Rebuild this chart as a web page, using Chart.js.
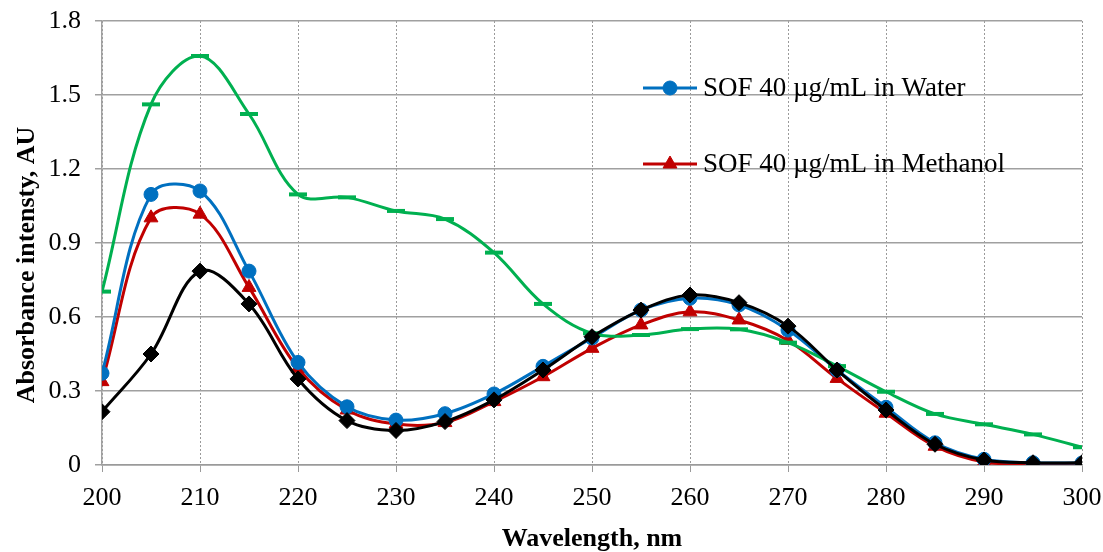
<!DOCTYPE html>
<html>
<head>
<meta charset="utf-8">
<script src="https://cdn.jsdelivr.net/npm/chart.js@4.4.0/dist/chart.umd.min.js"></script>
<style>
  body { margin: 0; background: #fff; }
  #wrap { width: 1103px; height: 552px; position: relative; }
</style>
</head>
<body>
<div id="wrap"><canvas id="chartSpectra"></canvas></div>
<script>
// wavelengths, nm
var wavelengths = [200, 205, 210, 215, 220, 225, 230, 235, 240, 245, 250,
                   255, 260, 265, 270, 275, 280, 285, 290, 295, 300];

// absorbance, AU
var sofWater    = [0.372, 1.097, 1.111, 0.786, 0.416, 0.236, 0.182, 0.208, 0.288, 0.400, 0.515,
                   0.628, 0.676, 0.649, 0.547, 0.385, 0.234, 0.090, 0.023, 0.009, 0.008];
var sofMethanol = [0.338, 1.002, 1.017, 0.720, 0.392, 0.223, 0.166, 0.172, 0.257, 0.358, 0.473,
                   0.568, 0.621, 0.588, 0.505, 0.351, 0.210, 0.076, 0.012, 0.005, 0.005];
var seriesGreen = [0.703, 1.462, 1.658, 1.423, 1.097, 1.085, 1.030, 0.997, 0.861, 0.653, 0.534,
                   0.527, 0.551, 0.550, 0.496, 0.401, 0.297, 0.207, 0.165, 0.124, 0.072];
var seriesBlack = [0.216, 0.450, 0.786, 0.653, 0.349, 0.180, 0.140, 0.176, 0.264, 0.385, 0.520,
                   0.628, 0.689, 0.658, 0.563, 0.385, 0.223, 0.084, 0.020, 0.009, 0.009];

var yTicks = [0, 0.3, 0.6, 0.9, 1.2, 1.5, 1.8];

var serif = "'Liberation Serif', 'Times New Roman', serif";

function toPoints(values){
    var pts = [];
    for (var i = 0; i < wavelengths.length; i++) {
        pts.push({x: wavelengths[i], y: values[i]});
    }
    return pts;
}

function makeDataset(label, values, color, style, radius, order, inLegend){
    return {
        label: label,
        data: toPoints(values),
        borderColor: color,
        backgroundColor: color,
        borderWidth: 3,
        pointStyle: style,
        pointRadius: radius,
        pointBorderWidth: style === 'line' ? 4 : 1,
        pointBorderColor: color,
        pointBackgroundColor: color,
        tension: 0.36,
        order: order,
        inLegend: inLegend
    };
}

// legend drawn inside the plot, like the original
var innerLegend = {
    id: 'innerLegend',
    afterDraw: function(chart){
        var ctx = chart.ctx;
        var rows = [88, 164];
        var n = 0;
        chart.data.datasets.forEach(function(ds){
            if (!ds.inLegend) return;
            var y = rows[n++];
            ctx.save();
            ctx.strokeStyle = ds.borderColor;
            ctx.fillStyle = ds.borderColor;
            ctx.lineWidth = 3;
            ctx.beginPath();
            ctx.moveTo(643, y);
            ctx.lineTo(697, y);
            ctx.stroke();
            ctx.lineWidth = 1;
            Chart.helpers.drawPoint(ctx, {pointStyle: ds.pointStyle, radius: ds.pointRadius, rotation: 0, borderWidth: 1}, 670, y);
            ctx.fillStyle = '#000';
            ctx.font = '27px ' + serif;
            ctx.textBaseline = 'middle';
            ctx.textAlign = 'left';
            ctx.fillText(ds.label, 703, y + 1);
            ctx.restore();
        });
        // y axis title
        ctx.save();
        ctx.translate(27, 265);
        ctx.rotate(-Math.PI / 2);
        ctx.font = 'bold 26px ' + serif;
        ctx.fillStyle = '#000';
        ctx.textAlign = 'center';
        ctx.textBaseline = 'middle';
        ctx.fillText('Absorbance intensty, AU', 0, 0);
        ctx.restore();
    }
};

var canvas = document.getElementById('chartSpectra');
var ctx = canvas.getContext('2d');

var chart = new Chart(ctx, {
    type: 'line',
    data: {
        datasets: [
            makeDataset('SOF 40 \u00b5g/mL in Water', sofWater, '#0070C0', 'circle', 7, 3, true),
            makeDataset('SOF 40 \u00b5g/mL in Methanol', sofMethanol, '#C00000', 'triangle', 8, 4, true),
            makeDataset('Series 3', seriesGreen, '#00B050', 'line', 9, 2, false),
            makeDataset('Series 4', seriesBlack, '#000000', 'rectRot', 8, 1, false)
        ]
    },
    options: {
        responsive: true,
        maintainAspectRatio: false,
        animation: false,
        layout: { padding: { top: 21, right: 21, left: 0, bottom: 0 } },
        plugins: {
            legend: { display: false },
            tooltip: { enabled: false }
        },
        scales: {
            x: {
                type: 'linear',
                min: 200,
                max: 300,
                afterFit: function(scale){
                    scale.height = 87;
                    scale.paddingLeft = 0;
                    scale.paddingRight = 0;
                },
                ticks: {
                    stepSize: 10,
                    color: '#000',
                    padding: 11,
                    maxRotation: 0,
                    font: { family: serif, size: 26 }
                },
                grid: {
                    color: '#9a9a9a',
                    lineWidth: 1,
                    tickLength: 7
                },
                border: { display: true, color: '#9a9a9a', width: 1.5, dash: [2, 2] },
                title: {
                    display: true,
                    text: 'Wavelength, nm',
                    color: '#000',
                    font: { family: serif, size: 26, weight: 'bold', lineHeight: 1 },
                    padding: { top: 0, bottom: 0 }
                }
            },
            y: {
                min: 0,
                max: 1.8,
                afterFit: function(scale){
                    scale.width = 102;
                    scale.paddingTop = 0;
                    scale.paddingBottom = 0;
                },
                afterBuildTicks: function(scale){
                    scale.ticks = yTicks.map(function(v){ return {value: v}; });
                },
                ticks: {
                    color: '#000',
                    padding: 14,
                    font: { family: serif, size: 26 },
                    callback: function(v){ return v === 0 ? '0' : v.toFixed(1); }
                },
                grid: {
                    color: '#a0a0a0',
                    lineWidth: 1.5,
                    tickLength: 7
                },
                border: { display: true, color: '#a0a0a0', width: 1.5 }
            }
        }
    },
    plugins: [innerLegend]
});
</script>
</body>
</html>
